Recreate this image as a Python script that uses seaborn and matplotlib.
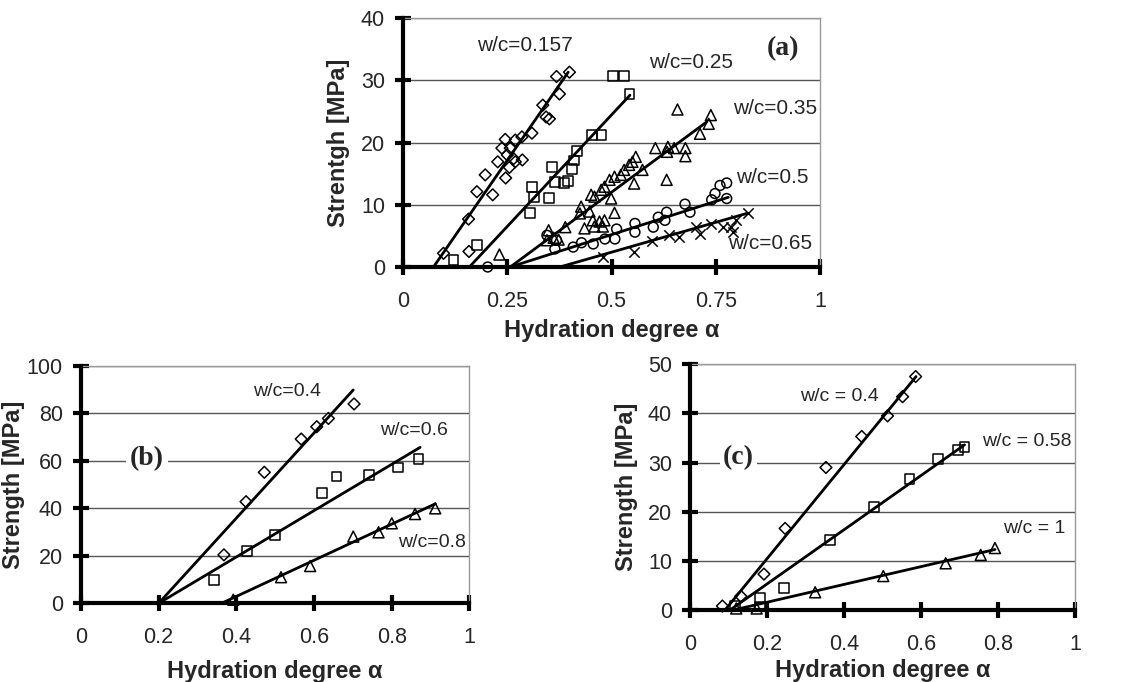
import pandas as pd
import seaborn as sns
import matplotlib.pyplot as plt

# ---------- panel (a) ----------
a_157_x = [0.097, 0.157, 0.158, 0.177, 0.197, 0.215, 0.227, 0.237, 0.245, 0.246, 0.250, 0.255, 0.257,
           0.265, 0.269, 0.269, 0.286, 0.285, 0.309, 0.335, 0.343, 0.351, 0.375, 0.368, 0.399]
a_157_y = [2.2, 7.7, 2.5, 12.1, 14.8, 11.6, 16.9, 19.1, 20.5, 14.3, 18.0, 16.0, 19.1,
           17.4, 20.4, 16.9, 17.2, 20.9, 21.5, 26.0, 24.1, 23.8, 27.8, 30.6, 31.3]
a_25_x = [0.121, 0.178, 0.305, 0.313, 0.309, 0.349, 0.357, 0.364, 0.386, 0.396, 0.405, 0.409,
          0.417, 0.453, 0.476, 0.504, 0.530, 0.543]
a_25_y = [1.1, 3.5, 8.7, 11.2, 12.9, 11.1, 16.0, 13.7, 13.5, 13.8, 15.8, 17.1,
          18.6, 21.2, 21.2, 30.7, 30.7, 27.8]
a_35_x = [0.231, 0.345, 0.349, 0.361, 0.373, 0.389, 0.424, 0.427, 0.435, 0.447, 0.451, 0.455,
          0.459, 0.459, 0.471, 0.475, 0.479, 0.483, 0.483, 0.495, 0.499, 0.507, 0.507, 0.522,
          0.530, 0.542, 0.550, 0.554, 0.558, 0.574, 0.605, 0.632, 0.633, 0.635, 0.650, 0.658,
          0.677, 0.677, 0.712, 0.733, 0.738]
a_35_y = [2.0, 4.3, 5.9, 4.7, 4.4, 6.4, 8.6, 9.7, 6.2, 8.9, 11.6, 7.5,
          11.3, 6.5, 7.3, 12.4, 6.5, 7.5, 12.9, 14.0, 11.0, 14.5, 8.7, 14.8,
          15.6, 16.4, 16.9, 13.4, 17.7, 15.6, 19.1, 14.0, 18.5, 19.3, 19.1, 25.3,
          19.1, 17.8, 21.4, 23.0, 24.4]
a_5_x = [0.203, 0.345, 0.364, 0.368, 0.408, 0.428, 0.456, 0.484, 0.508, 0.512, 0.556, 0.556,
         0.600, 0.612, 0.628, 0.632, 0.676, 0.688, 0.740, 0.748, 0.760, 0.776, 0.776]
a_5_y = [0.0, 5.1, 2.9, 4.3, 3.2, 3.9, 3.7, 4.5, 4.5, 6.1, 7.0, 5.6,
         6.4, 8.0, 7.5, 8.8, 10.1, 8.8, 10.8, 11.8, 13.1, 13.5, 11.0]
a_65_x = [0.480, 0.553, 0.598, 0.638, 0.662, 0.702, 0.712, 0.738, 0.766, 0.786, 0.792, 0.798, 0.826]
a_65_y = [1.6, 2.4, 4.1, 5.1, 4.9, 6.4, 5.3, 6.9, 6.4, 6.4, 5.6, 7.5, 8.6]
# fitted lines: start on the x axis, end point
a_fit_x0 = [0.073, 0.159, 0.257, 0.257, 0.376]
a_fit_x1 = [0.396, 0.544, 0.728, 0.780, 0.824]
a_fit_y1 = [31.3, 27.6, 23.3, 11.2, 8.6]
a_labels = ["w/c=0.157", "w/c=0.25", "w/c=0.35", "w/c=0.5", "w/c=0.65"]

# ---------- panel (b) ----------
b_4_x = [0.368, 0.425, 0.472, 0.567, 0.607, 0.637, 0.703]
b_4_y = [20.4, 42.8, 55.2, 69.2, 74.4, 77.9, 84.0]
b_6_x = [0.343, 0.428, 0.500, 0.620, 0.658, 0.742, 0.817, 0.869]
b_6_y = [9.8, 22.2, 28.8, 46.6, 53.4, 54.1, 57.2, 60.7]
b_8_x = [0.392, 0.515, 0.590, 0.701, 0.766, 0.800, 0.860, 0.912]
b_8_y = [1.5, 11.0, 15.7, 28.1, 29.9, 33.7, 37.6, 40.0]
b_fit_x0 = [0.200, 0.200, 0.362]
b_fit_x1 = [0.701, 0.873, 0.912]
b_fit_y1 = [89.9, 65.7, 41.9]
b_labels = ["w/c=0.4", "w/c=0.6", "w/c=0.8"]

# ---------- panel (c) ----------
c_4_x = [0.084, 0.132, 0.192, 0.247, 0.353, 0.446, 0.513, 0.552, 0.586]
c_4_y = [0.8, 2.8, 7.3, 16.6, 29.0, 35.3, 39.5, 43.4, 47.5]
c_58_x = [0.117, 0.182, 0.182, 0.244, 0.364, 0.478, 0.570, 0.645, 0.697, 0.713]
c_58_y = [0.8, 2.4, 0.7, 4.5, 14.2, 21.0, 26.7, 30.7, 32.6, 33.1]
c_1_x = [0.120, 0.173, 0.325, 0.502, 0.664, 0.755, 0.792]
c_1_y = [0.3, 0.3, 3.6, 6.9, 9.5, 11.2, 12.6]
c_fit_x0 = [0.091, 0.104, 0.113]
c_fit_x1 = [0.587, 0.713, 0.792]
c_fit_y1 = [47.5, 33.6, 12.3]
c_labels = ["w/c = 0.4", "w/c = 0.58", "w/c = 1"]

sns.set_theme(style="white")
plt.rcParams["font.family"] = ["Liberation Sans", "DejaVu Sans"]

fig = plt.figure(figsize=(11.29, 6.82), dpi=100)
ax_a = fig.add_axes([0.357, 0.6085, 0.3694, 0.3651])
ax_b = fig.add_axes([0.0717, 0.1154, 0.3441, 0.348])
ax_c = fig.add_axes([0.6112, 0.1056, 0.341, 0.3603])

marker_size = {"D": 36, "s": 50, "^": 62, "o": 50, "x": 55}


def draw_points(ax, xs, ys, marker):
    df = pd.DataFrame({"alpha": xs, "strength": ys})
    if marker == "x":
        sns.scatterplot(data=df, x="alpha", y="strength", marker="x", color="black",
                        s=marker_size[marker], linewidth=1.1, clip_on=False, ax=ax)
    else:
        sns.scatterplot(data=df, x="alpha", y="strength", marker=marker, facecolor="none",
                        edgecolor="black", s=marker_size[marker], linewidth=1.1,
                        clip_on=False, ax=ax)


def draw_fits(ax, x0s, x1s, y1s):
    for x0, x1, y1 in zip(x0s, x1s, y1s):
        sns.lineplot(x=[x0, x1], y=[0, y1], color="black", linewidth=2.0, sort=False,
                     estimator=None, ax=ax)


def style_axes(ax, ymax, ystep, xticks, xticklabels, ylabel, ylabelpad, xlabelpad):
    ax.set_xlim(0, 1)
    ax.set_ylim(0, ymax)
    ax.set_xticks(xticks)
    ax.set_xticklabels(xticklabels)
    ax.set_yticks(list(range(0, ymax + 1, ystep)))
    ax.tick_params(bottom=True, left=True, direction="inout", length=12, width=3,
                   color="black", pad=11, labelsize=15.5, labelcolor="#262626")
    ax.tick_params(axis="y", pad=7)
    ax.yaxis.grid(True, color="#555555", linewidth=1)
    ax.set_axisbelow(True)
    for side in ["left", "bottom"]:
        ax.spines[side].set_color("black")
        ax.spines[side].set_linewidth(3)
        ax.spines[side].set_zorder(3)
    for side in ["top", "right"]:
        ax.spines[side].set_color("#999999")
        ax.spines[side].set_linewidth(1)
    ax.set_xlabel("Hydration degree α", fontsize=17, fontweight="bold", labelpad=xlabelpad)
    ax.set_ylabel(ylabel, fontsize=17, fontweight="bold", labelpad=ylabelpad)


panel_font = {"family": ["Liberation Serif", "DejaVu Serif"], "weight": "bold", "size": 20}

# (a)
for xs, ys, m in [(a_157_x, a_157_y, "D"), (a_25_x, a_25_y, "s"), (a_35_x, a_35_y, "^"),
                  (a_5_x, a_5_y, "o"), (a_65_x, a_65_y, "x")]:
    draw_points(ax_a, xs, ys, m)
draw_fits(ax_a, a_fit_x0, a_fit_x1, a_fit_y1)
style_axes(ax_a, 40, 10, [0, 0.25, 0.5, 0.75, 1], ["0", "0.25", "0.5", "0.75", "1"],
           "Strentgh [MPa]", 8, 5)
for lab, (tx, ty) in zip(a_labels, [(0.177, 35.6), (0.59, 32.9), (0.791, 25.5),
                                    (0.799, 14.3), (0.780, 3.8)]):
    ax_a.text(tx, ty, lab, fontsize=15, va="center", ha="left", color="#262626")
ax_a.text(0.911, 35.1, "(a)", ha="center", va="center", fontdict=panel_font)

# (b)
for xs, ys, m in [(b_4_x, b_4_y, "D"), (b_6_x, b_6_y, "s"), (b_8_x, b_8_y, "^")]:
    draw_points(ax_b, xs, ys, m)
draw_fits(ax_b, b_fit_x0, b_fit_x1, b_fit_y1)
style_axes(ax_b, 100, 20, [0, 0.2, 0.4, 0.6, 0.8, 1], ["0", "0.2", "0.4", "0.6", "0.8", "1"],
           "Strength [MPa]", 1, 9)
for lab, (tx, ty) in zip(b_labels, [(0.444, 89.2), (0.77, 73.0), (0.817, 25.6)]):
    ax_b.text(tx, ty, lab, fontsize=14, va="center", ha="left", color="#262626")
ax_b.text(0.17, 61, "(b)", ha="center", va="center", fontdict=panel_font,
          bbox=dict(facecolor="white", edgecolor="none", pad=3))

# (c)
for xs, ys, m in [(c_4_x, c_4_y, "D"), (c_58_x, c_58_y, "s"), (c_1_x, c_1_y, "^")]:
    draw_points(ax_c, xs, ys, m)
draw_fits(ax_c, c_fit_x0, c_fit_x1, c_fit_y1)
style_axes(ax_c, 50, 10, [0, 0.2, 0.4, 0.6, 0.8, 1], ["0", "0.2", "0.4", "0.6", "0.8", "1"],
           "Strength [MPa]", 7, 3)
for lab, (tx, ty) in zip(c_labels, [(0.286, 43.4), (0.758, 34.3), (0.814, 16.6)]):
    ax_c.text(tx, ty, lab, fontsize=14, va="center", ha="left", color="#262626")
ax_c.text(0.126, 31, "(c)", ha="center", va="center", fontdict=panel_font,
          bbox=dict(facecolor="white", edgecolor="none", pad=2))

fig.savefig("out.png", dpi=100)
